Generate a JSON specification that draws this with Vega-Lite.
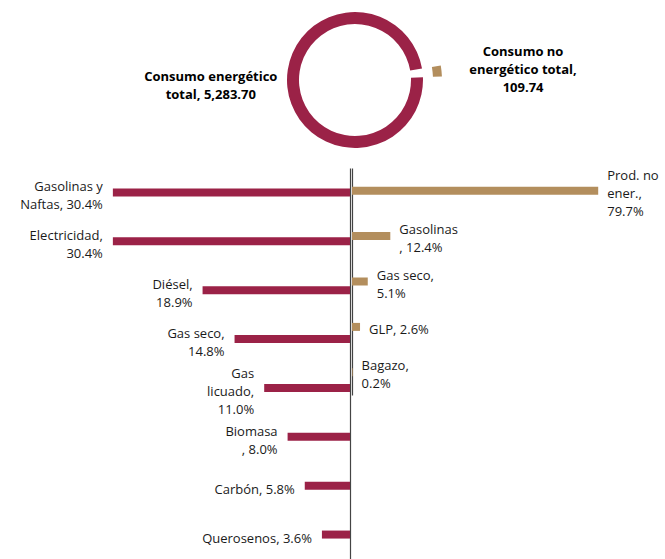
{
  "$schema": "https://vega.github.io/schema/vega-lite/v6.json",
  "padding": 0,
  "autosize": {"type": "pad"},
  "background": "white",
  "config": {"view": {"stroke": null}, "font": "Open Sans"},
  "datasets": {
    "totales": [
      {"tipo": "Consumo no energético total", "valor": 109.74, "orden": 1, "etiqueta": "Consumo no\nenergético total,\n109.74"},
      {"tipo": "Consumo energético total", "valor": 5283.70, "orden": 2, "etiqueta": "Consumo energético\ntotal, 5,283.70"}
    ],
    "energetico": [
      {"fuente": "Gasolinas y Naftas", "pct": 30.4, "etiqueta": "Gasolinas y\nNaftas, 30.4%"},
      {"fuente": "Electricidad", "pct": 30.4, "etiqueta": "Electricidad,\n30.4%"},
      {"fuente": "Diésel", "pct": 18.9, "etiqueta": "Diésel,\n18.9%"},
      {"fuente": "Gas seco", "pct": 14.8, "etiqueta": "Gas seco,\n14.8%"},
      {"fuente": "Gas licuado", "pct": 11.0, "etiqueta": "Gas\nlicuado,\n11.0%"},
      {"fuente": "Biomasa", "pct": 8.0, "etiqueta": "Biomasa\n, 8.0%"},
      {"fuente": "Carbón", "pct": 5.8, "etiqueta": "Carbón, 5.8%"},
      {"fuente": "Querosenos", "pct": 3.6, "etiqueta": "Querosenos, 3.6%"}
    ],
    "no_energetico": [
      {"fuente": "Prod. no ener.", "pct": 79.7, "etiqueta": "Prod. no\nener.,\n79.7%"},
      {"fuente": "Gasolinas", "pct": 12.4, "etiqueta": "Gasolinas\n, 12.4%"},
      {"fuente": "Gas seco", "pct": 5.1, "etiqueta": "Gas seco,\n5.1%"},
      {"fuente": "GLP", "pct": 2.6, "etiqueta": "GLP, 2.6%"},
      {"fuente": "Bagazo", "pct": 0.2, "etiqueta": "Bagazo,\n0.2%"}
    ]
  },
  "spacing": 8,
  "vconcat": [
    {
      "spacing": 0,
      "hconcat": [
        {"width": 45, "height": 160, "data": {"values": []}, "mark": {"type": "point"}, "encoding": {}},
        {
          "width": 620,
          "height": 160,
          "data": {"name": "totales"},
          "encoding": {
            "theta": {"field": "valor", "type": "quantitative", "stack": true, "scale": {"range": [1.402, 7.685]}},
            "order": {"field": "orden", "type": "quantitative"}
          },
          "layer": [
            {
              "mark": {"type": "arc",
                       "outerRadius": {"expr": "datum.orden == 1 ? 87 : 68"},
                       "innerRadius": {"expr": "datum.orden == 1 ? 78 : 56"}},
              "encoding": {"color": {"condition": {"test": "datum.orden == 1", "value": "#B38E5D"}, "value": "#9B2247"}}
            },
            {
              "mark": {"type": "text", "radius": 145, "dy": -18, "fontSize": 13, "fontWeight": "bold", "lineBreak": "\n", "lineHeight": 18, "color": "#000000", "align": "center", "baseline": "middle"},
              "encoding": {"text": {"condition": {"test": "datum.orden == 2", "field": "etiqueta"}, "value": ""}}
            },
            {
              "mark": {"type": "text", "radius": 169, "dy": -10, "fontSize": 13, "fontWeight": "bold", "lineBreak": "\n", "lineHeight": 18, "color": "#000000", "align": "center", "baseline": "middle"},
              "encoding": {"text": {"condition": {"test": "datum.orden == 1", "field": "etiqueta"}, "value": ""}}
            }
          ]
        }
      ]
    },
    {
      "spacing": 2,
      "hconcat": [
        {
          "width": 350,
          "height": 391,
          "data": {"name": "energetico"},
          "encoding": {
            "y": {"field": "fuente", "type": "nominal", "sort": null, "scale": {"paddingInner": 0, "paddingOuter": 0},
                  "axis": {"orient": "right", "title": null, "labels": false, "ticks": false, "grid": false, "domainColor": "#444444", "domainWidth": 1.2}},
            "x": {"field": "pct", "type": "quantitative", "scale": {"domain": [0, 44.87], "reverse": true}, "axis": null}
          },
          "layer": [
            {"mark": {"type": "bar", "color": "#9B2247", "size": 8}},
            {
              "mark": {"type": "text", "align": "right", "baseline": "middle", "dx": -10,
                       "dy": {"expr": "4 - (length(split(datum.etiqueta, '\\n')) - 1) * 9"},
                       "fontSize": 13, "lineBreak": "\n", "lineHeight": 18, "color": "#1a1a1a"},
              "encoding": {"text": {"field": "etiqueta"}}
            }
          ]
        },
        {
          "width": 312,
          "height": 227,
          "data": {"name": "no_energetico"},
          "encoding": {
            "y": {"field": "fuente", "type": "nominal", "sort": null, "scale": {"paddingInner": 0, "paddingOuter": 0},
                  "axis": {"orient": "left", "title": null, "labels": false, "ticks": false, "grid": false, "domainColor": "#444444", "domainWidth": 1.2}},
            "x": {"field": "pct", "type": "quantitative", "scale": {"domain": [0, 101]}, "axis": null}
          },
          "layer": [
            {"mark": {"type": "bar", "color": "#B38E5D", "size": 8}},
            {
              "mark": {"type": "text", "align": "left", "baseline": "middle", "dx": 9,
                       "dy": {"expr": "3 - (length(split(datum.etiqueta, '\\n')) - 1) * 9"},
                       "fontSize": 13, "lineBreak": "\n", "lineHeight": 18, "color": "#1a1a1a"},
              "encoding": {"text": {"field": "etiqueta"}}
            }
          ]
        }
      ]
    }
  ]
}
